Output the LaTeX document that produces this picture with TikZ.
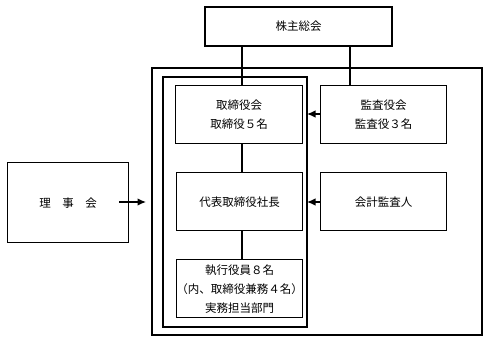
\documentclass[tikz,border=0pt]{standalone}
\usepackage{fontspec}
\newfontfamily\cjk{Noto Sans CJK JP}
\usetikzlibrary{arrows.meta}
\begin{document}
\begin{tikzpicture}[x=1pt,y=-1pt,
  box/.style={draw,line width=1.4pt},
  lbl/.style={font=\cjk\fontsize{11.5}{19}\selectfont,align=center,inner sep=0},
  conn/.style={line width=1.3pt},
  arr/.style={line width=1.3pt,-{Latex[length=8.5pt,width=7.5pt]}}]
\useasboundingbox (0,0) rectangle (489,343);
% boxes
\draw[box] (205,7) rectangle (392,46) node[midway,lbl] (gm) {株主総会};
\coordinate (gmS1) at (242,46);
\coordinate (gmS2) at (350,46);
\draw[box] (152,68) rectangle (482,335);
\draw[box] (163,77) rectangle (307,327);
\coordinate (innerR1) at (307,114);
\coordinate (innerR2) at (307,202);
\coordinate (outerL) at (146,202);
\node[box,minimum width=127pt,minimum height=58pt,anchor=north west,inner sep=0] (bod) at (175,85) {};
\node[lbl] at (bod) {取締役会\\取締役５名};
\node[box,minimum width=126pt,minimum height=58pt,anchor=north west,inner sep=0] (aud) at (320,85) {};
\node[lbl] at (aud) {監査役会\\監査役３名};
\node[box,minimum width=126pt,minimum height=58pt,anchor=north west,inner sep=0] (pres) at (176,172) {};
\node[lbl] at (pres) {代表取締役社長};
\node[box,minimum width=126pt,minimum height=58pt,anchor=north west,inner sep=0] (acc) at (320,172) {};
\node[lbl] at (acc) {会計監査人};
\node[box,minimum width=126pt,minimum height=58pt,anchor=north west,inner sep=0] (exe) at (176,259) {};
\node[lbl] at (exe) {執行役員８名\\（内、取締役兼務４名）\\実務担当部門};
\node[box,minimum width=121pt,minimum height=80pt,anchor=north west,inner sep=0] (rj) at (7,162) {};
\node[lbl] at (rj) {理　事　会};
\coordinate (rjS) at (119,202);
% connectors
\draw[conn] (gmS1) -- (bod.north -| gmS1);
\draw[conn] (gmS2) -- (aud.north -| gmS2);
\draw[conn] (bod.south -| gmS1) -- (pres.north -| gmS1);
\draw[conn] (pres.south -| gmS1) -- (exe.north -| gmS1);
\draw[arr] (aud.west |- innerR1) -- (innerR1);
\draw[arr] (acc.west |- innerR2) -- (innerR2);
\draw[arr] (rjS) -- (outerL);
\end{tikzpicture}
\end{document}
